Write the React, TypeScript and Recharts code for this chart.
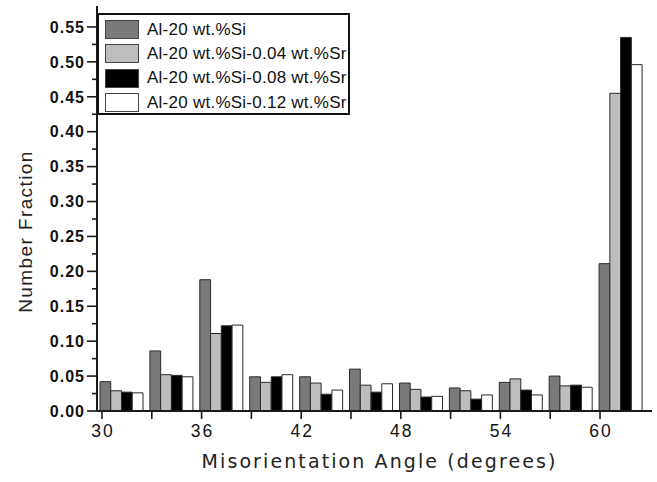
import React from 'react';
import { BarChart, Bar, XAxis, YAxis, Legend, Label } from 'recharts';

const binLabels = ['30', '33', '36', '39', '42', '45', '48', '51', '54', '57', '60'];
const binStarts = [30, 33, 36, 39, 42, 45, 48, 51, 54, 57, 60];

const seriesNames = [
  'Al-20 wt.%Si',
  'Al-20 wt.%Si-0.04 wt.%Sr',
  'Al-20 wt.%Si-0.08 wt.%Sr',
  'Al-20 wt.%Si-0.12 wt.%Sr',
];
const seriesColors = ['#7a7a7a', '#bdbdbd', '#000000', '#ffffff'];

const alSi = [0.042, 0.086, 0.188, 0.049, 0.049, 0.060, 0.040, 0.033, 0.041, 0.050, 0.211];
const sr004 = [0.029, 0.052, 0.111, 0.041, 0.040, 0.037, 0.031, 0.029, 0.046, 0.036, 0.455];
const sr008 = [0.027, 0.051, 0.122, 0.049, 0.024, 0.027, 0.020, 0.017, 0.030, 0.037, 0.535];
const sr012 = [0.026, 0.049, 0.123, 0.052, 0.030, 0.039, 0.021, 0.023, 0.023, 0.034, 0.496];

const xTicks = [30, 33, 36, 39, 42, 45, 48, 51, 54, 57, 60];
const xTickLabels = ['30', '36', '42', '48', '54', '60'];
const yMajorTicks = [0, 0.05, 0.1, 0.15, 0.2, 0.25, 0.3, 0.35, 0.4, 0.45, 0.5, 0.55];
const yMinorTicks = [0.025, 0.075, 0.125, 0.175, 0.225, 0.275, 0.325, 0.375, 0.425, 0.475, 0.525];
const yTicks = [...yMajorTicks, ...yMinorTicks].sort((a, b) => a - b);

const seriesKeys = ['s0', 's1', 's2', 's3'];
const seriesValues = [alSi, sr004, sr008, sr012];

const data = binLabels.map((bin, i) => {
  const row: any = { bin, angle: binStarts[i] };
  seriesKeys.forEach((k, j) => {
    row[k] = seriesValues[j][i];
  });
  return row;
});

const AXIS = '#1a1a1a';
const SANS = '"Liberation Sans", Arial, Helvetica, sans-serif';

const YTick = (props: any) => {
  const { x, y, payload } = props;
  const v = payload.value;
  const major = yMajorTicks.some((t) => Math.abs(t - v) < 1e-6);
  return (
    <g>
      <line x1={x} x2={x - (major ? 10 : 5)} y1={y} y2={y} stroke={AXIS} strokeWidth={1.6} />
      {major && (
        <text
          x={x - 12}
          y={y}
          dy="0.36em"
          textAnchor="end"
          fontFamily={SANS}
          fontWeight="bold"
          fontSize={16}
          letterSpacing={1}
          fill="#111"
        >
          {v.toFixed(2)}
        </text>
      )}
    </g>
  );
};

const XTick = (props: any) => {
  const { x, y, payload } = props;
  const v = payload.value;
  const label = xTickLabels.find((l) => Number(l) === v);
  return (
    <g>
      <line x1={x} x2={x} y1={y} y2={y + 8} stroke={AXIS} strokeWidth={1.6} />
      {label && (
        <text
          x={x + 1}
          y={y + 20}
          dy="0.36em"
          textAnchor="middle"
          fontFamily={SANS}
          fontSize={17.5}
          letterSpacing={2}
          fill="#111"
        >
          {label}
        </text>
      )}
    </g>
  );
};

const YLabel = (props: any) => {
  const vb = props.viewBox || { x: 0, y: 6, width: 97, height: 405 };
  const cx = vb.x + 32;
  const cy = vb.y + vb.height / 2 + 23;
  return (
    <text
      x={cx}
      y={cy}
      transform={`rotate(-90 ${cx} ${cy})`}
      textAnchor="middle"
      fontFamily={SANS}
      fontSize={19}
      letterSpacing={1.4}
      fill="#222"
    >
      Number Fraction
    </text>
  );
};

const XLabel = (props: any) => {
  const vb = props.viewBox || { x: 97, y: 411, width: 555, height: 71 };
  const cx = vb.x + vb.width / 2 + 5;
  const cy = vb.y + 57;
  return (
    <text
      x={cx}
      y={cy}
      textAnchor="middle"
      fontFamily='"DejaVu Sans", sans-serif'
      fontSize={19}
      letterSpacing={2.1}
      fill="#222"
    >
      Misorientation Angle (degrees)
    </text>
  );
};

const renderLegend = () => (
  <div
    style={{
      width: 253,
      height: 102,
      boxSizing: 'border-box',
      border: '2px solid #111',
      background: '#fff',
      paddingTop: 2.5,
      paddingLeft: 6,
      fontFamily: SANS,
    }}
  >
    {seriesNames.map((name, i) => (
      <div key={name} style={{ height: 24.3, display: 'flex', alignItems: 'center' }}>
        <div
          style={{
            width: 34,
            height: 19,
            boxSizing: 'border-box',
            border: '1px solid #444',
            background: seriesColors[i],
            marginRight: 8,
          }}
        />
        <span style={{ fontSize: 17, letterSpacing: 0.25, color: '#111', whiteSpace: 'nowrap' }}>{name}</span>
      </div>
    ))}
  </div>
);

export default function App() {
  return (
    <div style={{ position: 'absolute', left: 0, top: 0, width: 657, height: 482, background: '#fff' }}>
      <BarChart
        width={657}
        height={482}
        data={data}
        margin={{ top: 6, right: 5, bottom: 0, left: 0 }}
        barGap={0}
      >
        <XAxis
          xAxisId="num"
          dataKey="angle"
          type="number"
          domain={[29.7, 63.13]}
          allowDataOverflow
          ticks={xTicks}
          interval={0}
          height={71}
          tickSize={0}
          tickMargin={0}
          tickLine={false}
          tick={<XTick />}
          axisLine={{ stroke: AXIS, strokeWidth: 2 }}
        >
          <Label content={<XLabel />} />
        </XAxis>
        <XAxis
          xAxisId="cat"
          dataKey="bin"
          type="category"
          hide
          height={0}
          padding={{ left: 0, right: 6 }}
        />
        <XAxis
          xAxisId="top"
          dataKey="bin"
          type="category"
          orientation="top"
          height={0}
          tick={false}
          tickLine={false}
          axisLine={{ stroke: '#333', strokeWidth: 1.6 }}
        />
        <YAxis
          domain={[0, 0.58]}
          ticks={yTicks}
          interval={0}
          width={97}
          tickSize={0}
          tickMargin={0}
          tickLine={false}
          tick={<YTick />}
          axisLine={{ stroke: AXIS, strokeWidth: 2 }}
        >
          <Label content={<YLabel />} />
        </YAxis>
        <YAxis
          yAxisId="right"
          orientation="right"
          width={0}
          tick={false}
          tickLine={false}
          axisLine={{ stroke: '#333', strokeWidth: 1.6 }}
        />
        <Legend
          layout="vertical"
          align="center"
          verticalAlign="middle"
          content={renderLegend}
          wrapperStyle={{ left: 97, top: 13 }}
        />
        {seriesKeys.map((k, i) => (
          <Bar
            key={k}
            xAxisId="cat"
            dataKey={k}
            name={seriesNames[i]}
            fill={seriesColors[i]}
            stroke="#2a2a2a"
            strokeWidth={1}
            barSize={10.75}
            isAnimationActive={false}
          />
        ))}
      </BarChart>
    </div>
  );
}
